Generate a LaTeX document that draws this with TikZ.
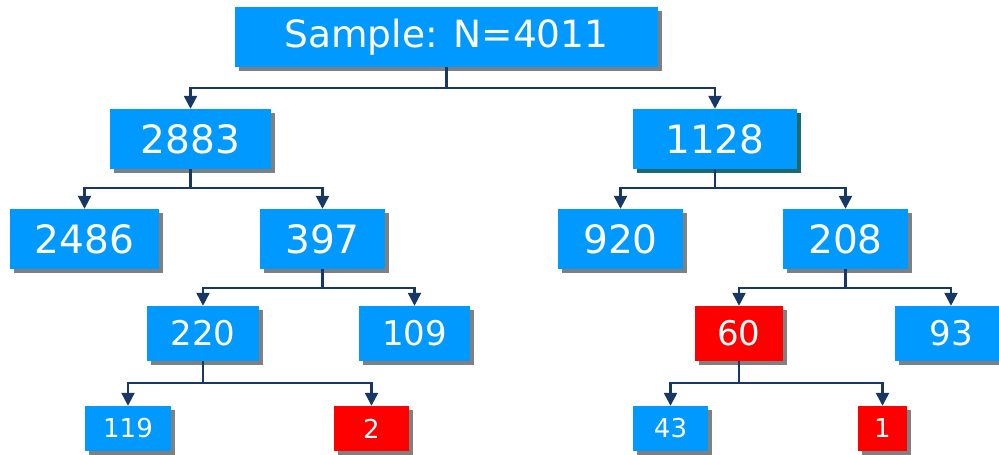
\documentclass[tikz,border=0pt]{standalone}
\usepackage{fontspec}
\setmainfont{DejaVu Sans}
\usetikzlibrary{arrows.meta,shadows}
\definecolor{boxblue}{RGB}{0,153,255}
\definecolor{boxred}{RGB}{255,0,0}
\definecolor{navy}{RGB}{23,55,100}
\definecolor{shgray}{RGB}{128,128,128}
\definecolor{shteal}{RGB}{30,105,105}
\tikzset{
  box/.style={rectangle, fill=boxblue, text=white, inner sep=0pt,
    drop shadow={shadow xshift=4pt, shadow yshift=-4pt, fill=shgray, opacity=1}},
  redbox/.style={box, fill=boxred},
  lvT/.style={font=\fontsize{37.5}{40}\selectfont},
  lvA/.style={font=\fontsize{39}{41}\selectfont},
  lvB/.style={font=\fontsize{34}{36}\selectfont},
  lvC/.style={font=\fontsize{26}{28}\selectfont},
  stem/.style={draw=navy, line width=2.4pt},
  conn/.style={draw=navy, line width=2.4pt, -{Triangle[width=13pt,length=13pt]}},
}
\begin{document}
\begin{tikzpicture}[x=1pt,y=-1pt]
\useasboundingbox (0,0) rectangle (999,455);
% level 0
\node[box,lvT,minimum width=423pt,minimum height=60pt] (top) at (446.5,37) {Sample: N=4011};
% level 1
\node[box,lvA,minimum width=161pt,minimum height=60pt] (n2883) at (190.5,139) {2883};
\node[box,lvA,minimum width=164pt,minimum height=60pt,
  drop shadow={shadow xshift=4pt, shadow yshift=-4pt, fill=shteal, opacity=1}] (n1128) at (715,139) {1128};
% level 2
\node[box,lvA,minimum width=149pt,minimum height=60pt] (n2486) at (84.5,239) {2486};
\node[box,lvA,minimum width=125pt,minimum height=60pt] (n397) at (322.5,239) {397};
\node[box,lvA,minimum width=125pt,minimum height=60pt] (n920) at (620.5,239) {920};
\node[box,lvA,minimum width=125pt,minimum height=60pt] (n208) at (845.5,239) {208};
% level 3
\node[box,lvB,minimum width=112pt,minimum height=55pt] (n220) at (203,333.5) {220};
\node[box,lvB,minimum width=111pt,minimum height=55pt] (n109) at (414.5,333.5) {109};
\node[redbox,lvB,minimum width=88pt,minimum height=55pt] (n60) at (739,333.5) {60};
\node[box,lvB,minimum width=112pt,minimum height=55pt] (n93) at (951,333.5) {93};
% level 4
\node[box,lvC,minimum width=86pt,minimum height=45pt] (n119) at (128,428.5) {119};
\node[redbox,lvC,minimum width=75pt,minimum height=45pt] (n2) at (371.5,428.5) {2};
\node[box,lvC,minimum width=75pt,minimum height=45pt] (n43) at (670.5,428.5) {43};
\node[redbox,lvC,minimum width=49pt,minimum height=45pt] (n1) at (882.5,428.5) {1};
% junction levels
\coordinate (j0) at (0,88);
\coordinate (j1) at (0,188);
\coordinate (j2) at (0,288);
\coordinate (j3) at (0,383);
% connectors
\draw[stem] (top.south) -- (top.south |- j0);
\draw[conn] (top.south |- j0) -| (n2883.north);
\draw[conn] (top.south |- j0) -| (n1128.north);
\draw[stem] (n2883.south) -- (n2883.south |- j1);
\draw[conn] (n2883.south |- j1) -| (n2486.north);
\draw[conn] (n2883.south |- j1) -| (n397.north);
\draw[stem] (n1128.south) -- (n1128.south |- j1);
\draw[conn] (n1128.south |- j1) -| (n920.north);
\draw[conn] (n1128.south |- j1) -| (n208.north);
\draw[stem] (n397.south) -- (n397.south |- j2);
\draw[conn] (n397.south |- j2) -| (n220.north);
\draw[conn] (n397.south |- j2) -| (n109.north);
\draw[stem] (n208.south) -- (n208.south |- j2);
\draw[conn] (n208.south |- j2) -| (n60.north);
\draw[conn] (n208.south |- j2) -| (n93.north);
\draw[stem] (n220.south) -- (n220.south |- j3);
\draw[conn] (n220.south |- j3) -| (n119.north);
\draw[conn] (n220.south |- j3) -| (n2.north);
\draw[stem] (n60.south) -- (n60.south |- j3);
\draw[conn] (n60.south |- j3) -| (n43.north);
\draw[conn] (n60.south |- j3) -| (n1.north);
\end{tikzpicture}
\end{document}
